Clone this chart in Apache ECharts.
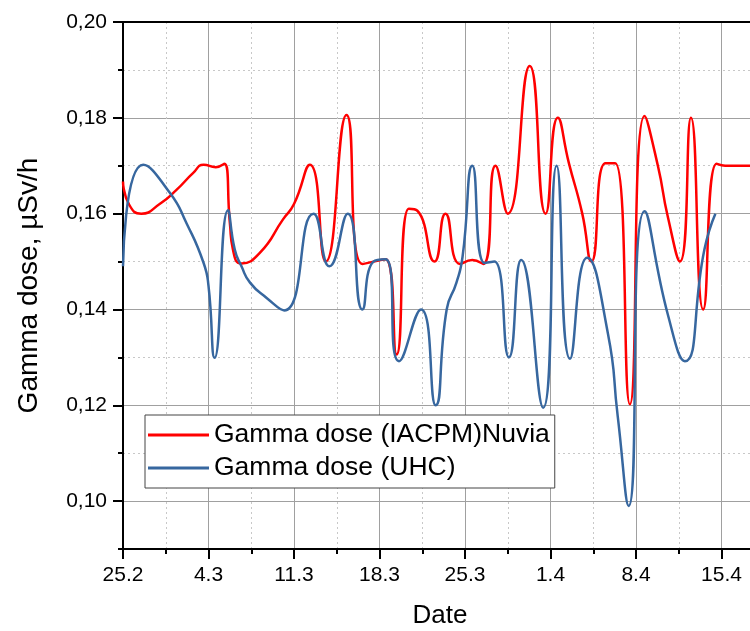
<!DOCTYPE html>
<html><head><meta charset="utf-8">
<script src="https://cdn.jsdelivr.net/npm/echarts@6/dist/echarts.min.js"></script>
<style>html,body{margin:0;padding:0;background:#fff}#c{width:750px;height:631px}</style>
</head><body><div id="c"></div>
<script>
// ---- data (x = days since 25 Feb) ----
const seriesNames = ['Gamma dose (IACPM)Nuvia', 'Gamma dose (UHC)'];
const xTickLabels = ['25.2', '4.3', '11.3', '18.3', '25.3', '1.4', '8.4', '15.4', '22.4'];
const yTickValues = [0.10, 0.12, 0.14, 0.16, 0.18, 0.20];
const yMinorValues = [0.09, 0.11, 0.13, 0.15, 0.17, 0.19];

const nuviaDays = [0, 0.5, 1.5, 3.0, 4.4, 5.75, 6.6, 7.6, 8.3, 8.75, 9.0, 9.7, 11.2, 13.1, 14.0, 15.3, 16.6, 18.3, 19.6, 21.5, 22.4, 23.4, 24.1, 25.5, 26.4, 27.6, 28.6, 29.5, 30.5, 31.5, 33.3, 34.6, 35.6, 36.5, 37.6, 38.35, 39.5, 40.3, 41.5, 42.7, 43.8, 44.6, 45.6, 46.5, 47.5, 48.6, 49.3, 56];
const nuviaValues = [0.1667, 0.1619, 0.160, 0.162, 0.165, 0.1685, 0.1702, 0.1697, 0.1704, 0.158, 0.1525, 0.1496, 0.1518, 0.1588, 0.162, 0.1702, 0.150, 0.1806, 0.1495, 0.1505, 0.1306, 0.161, 0.1606, 0.150, 0.160, 0.1495, 0.1503, 0.1495, 0.170, 0.160, 0.1908, 0.160, 0.180, 0.1706, 0.160, 0.150, 0.1705, 0.1705, 0.1202, 0.1804, 0.1699, 0.1594, 0.150, 0.180, 0.140, 0.1704, 0.170, 0.170];

const uhcDays = [0, 1.66, 3.85, 5.2, 6.6, 7.0, 7.5, 8.6, 9.15, 9.7, 10.4, 11.76, 13.2, 15.6, 16.9, 18.4, 19.6, 20.5, 21.5, 22.6, 24.4, 25.6, 26.5, 27.3, 27.8, 28.6, 29.6, 30.4, 31.6, 32.6, 34.4, 35.5, 36.6, 38.0, 39.7, 40.5, 41.4, 42.7, 44.6, 46.0, 47.6, 48.5];
const uhcValues = [0.149, 0.1702, 0.1643, 0.158, 0.1497, 0.1449, 0.1299, 0.1607, 0.1525, 0.149, 0.1456, 0.1424, 0.1398, 0.160, 0.149, 0.160, 0.140, 0.150, 0.1505, 0.1292, 0.140, 0.120, 0.140, 0.1456, 0.151, 0.170, 0.1497, 0.150, 0.130, 0.1503, 0.1195, 0.170, 0.1297, 0.1508, 0.135, 0.1178, 0.099, 0.1605, 0.139, 0.1292, 0.1525, 0.160];

const pairs = (xs, ys) => xs.map((x, i) => [x, ys[i]]);

const RED = '#ff0000', BLUE = '#37679f';
const FONT = '"Liberation Sans", Arial, sans-serif';
const chart = echarts.init(document.getElementById('c'), null, {renderer: 'canvas'});
chart.setOption({
  animation: false,
  backgroundColor: '#fff',
  grid: {left: 123, top: 22, bottom: 82, right: -57, containLabel: false, outerBoundsMode: 'none'},
  legend: {
    left: 145, top: 415, orient: 'vertical',
    itemWidth: 61, itemHeight: 3, itemGap: 5,
    padding: [6, 5, 6, 3],
    borderColor: '#444', borderWidth: 1, backgroundColor: '#fff',
    textStyle: {fontSize: 26.5, fontFamily: FONT, color: '#000', lineHeight: 28},
    data: [{name: seriesNames[0], icon: 'rect'}, {name: seriesNames[1], icon: 'rect'}]
  },
  xAxis: [{
    type: 'value', min: 0, max: 56, interval: 7,
    axisLine: {show: true, onZero: false, lineStyle: {color: '#000', width: 2}},
    axisTick: {show: true, inside: false, length: 10, lineStyle: {color: '#000', width: 2}},
    minorTick: {show: true, splitNumber: 2, length: 5, lineStyle: {color: '#000', width: 2}},
    axisLabel: {
      formatter: v => (Math.abs(v / 7 - Math.round(v / 7)) < 1e-6 ? (xTickLabels[Math.round(v / 7)] || '') : ''),
      fontSize: 21, color: '#000', margin: 16, fontFamily: FONT
    },
    splitLine: {show: true, lineStyle: {color: '#a0a0a0', width: 1}},
    minorSplitLine: {show: true, lineStyle: {color: '#c8c8c8', width: 1, type: [2, 3]}},
    name: 'Date', nameLocation: 'middle', nameGap: 54,
    nameTextStyle: {fontSize: 26, fontFamily: FONT, color: '#000', padding: [0, 50, 0, 0]}
  }, {
    type: 'value', position: 'top', min: 0, max: 56,
    axisLine: {show: true, lineStyle: {color: '#000', width: 2}},
    axisTick: {show: false}, axisLabel: {show: false}, splitLine: {show: false}
  }],
  yAxis: [{
    type: 'value', min: 0.09, max: 0.20, interval: 0.01,
    axisLine: {show: true, onZero: false, lineStyle: {color: '#000', width: 2}},
    axisTick: {show: true, inside: false, length: 10, customValues: yTickValues, lineStyle: {color: '#000', width: 2}},
    axisLabel: {
      customValues: yTickValues,
      formatter: v => v.toFixed(2).replace('.', ','),
      fontSize: 21, color: '#000', margin: 16, fontFamily: FONT
    },
    splitLine: {show: true, lineStyle: {color: '#a0a0a0', width: 1}},
    name: 'Gamma dose, µSv/h', nameLocation: 'middle', nameGap: 80,
    nameTextStyle: {fontSize: 28, fontFamily: FONT, color: '#000'}
  }, {
    type: 'value', min: 0.09, max: 0.20, interval: 0.01, position: 'left',
    axisLine: {show: false},
    axisTick: {show: true, inside: false, length: 5, customValues: yMinorValues, lineStyle: {color: '#000', width: 2}},
    axisLabel: {show: false},
    splitLine: {show: true, lineStyle: {color: '#c8c8c8', width: 1, type: [2, 3]}}
  }],
  series: [{
    name: seriesNames[0], type: 'line', xAxisIndex: 0, yAxisIndex: 0,
    data: pairs(nuviaDays, nuviaValues), smooth: 0.55, symbol: 'none',
    lineStyle: {color: RED, width: 2.5}, itemStyle: {color: RED}
  }, {
    name: seriesNames[1], type: 'line', xAxisIndex: 0, yAxisIndex: 0,
    data: pairs(uhcDays, uhcValues), smooth: 0.55, symbol: 'none',
    lineStyle: {color: BLUE, width: 2.5}, itemStyle: {color: BLUE}
  }]
});
</script></body></html>
